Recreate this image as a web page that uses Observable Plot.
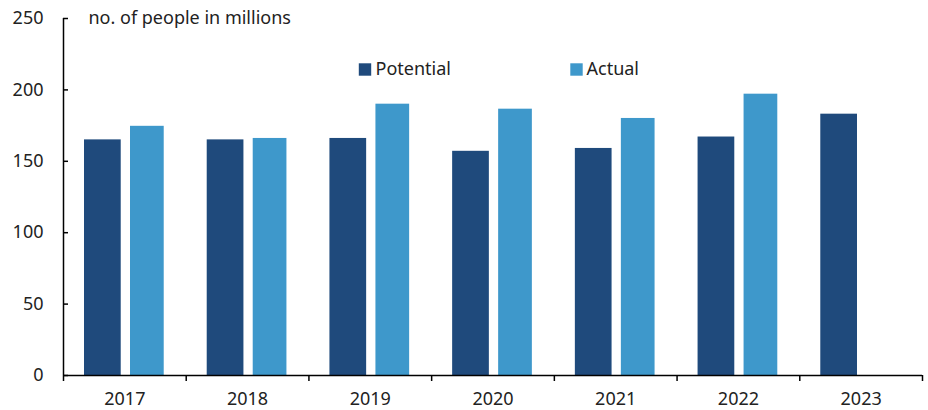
<!DOCTYPE html>
<html>
<head>
<meta charset="utf-8">
<script src="https://cdn.jsdelivr.net/npm/d3@7"></script>
<script src="https://cdn.jsdelivr.net/npm/@observablehq/plot@0.6"></script>
<style>
  html, body { margin: 0; padding: 0; background: #fff; }
  #chart svg { display: block; }
</style>
</head>
<body>
<div id="chart"></div>
<script>
const years = [2017, 2018, 2019, 2020, 2021, 2022, 2023];
const potential = [165, 165, 166, 157, 159, 167, 183];
const actual = [174.5, 166, 190, 186.5, 180, 197, null];
const seriesNames = ["Potential", "Actual"];
const seriesColors = ["#1f4a7c", "#3e98cb"];
const yTicks = [0, 50, 100, 150, 200, 250];
const axisTitle = "no. of people in millions";

const potData = years.map((year, i) => ({year, value: potential[i]}));
const actData = years.map((year, i) => ({year, value: actual[i]})).filter(d => d.value != null);
const bounds = [years[0] - 0.5, ...years.map(y => y + 0.5)];

const font = "'Noto Sans', sans-serif";
const fs = 18;

const chart = Plot.plot({
  width: 928,
  height: 410,
  marginLeft: 63,
  marginRight: 6,
  marginTop: 18,
  marginBottom: 35,
  style: {fontFamily: font, fontSize: fs + "px", color: "#222", background: "#fff"},
  x: {type: "linear", domain: [bounds[0], bounds[bounds.length - 1]], axis: null},
  y: {domain: [0, 250], axis: null},
  marks: [
    Plot.rectY(potData, {x1: d => d.year - 0.5, x2: d => d.year + 0.5, y: "value", fill: seriesColors[0], insetLeft: 21, insetRight: 65}),
    Plot.rectY(actData, {x1: d => d.year - 0.5, x2: d => d.year + 0.5, y: "value", fill: seriesColors[1], insetLeft: 67, insetRight: 22}),
    Plot.axisY({ticks: yTicks, tickSize: 0, tickPadding: 20, label: null, fontSize: fs, fill: "#222"}),
    Plot.axisY({ticks: yTicks, tickSize: -5, text: null, label: null, stroke: "#000", strokeWidth: 1.5}),
    Plot.axisX({ticks: years, tickSize: 0, tickPadding: 17, tickFormat: d => String(d), label: null, fontSize: fs, fill: "#222"}),
    Plot.axisX({ticks: bounds, tickSize: 6, text: null, label: null, stroke: "#000", strokeWidth: 1.5}),
    Plot.ruleY([0], {stroke: "#000", strokeWidth: 1.5}),
    Plot.ruleX([bounds[0]], {stroke: "#000", strokeWidth: 1.5}),
    Plot.text([axisTitle], {frameAnchor: "top-left", dx: 25, dy: 0, textAnchor: "start", lineAnchor: "middle", fontSize: fs, fill: "#222"}),
    Plot.dot([seriesNames[0]], {frameAnchor: "top-left", dx: 301.5, dy: 51, symbol: "square", r: 7, fill: seriesColors[0]}),
    Plot.text([seriesNames[0]], {frameAnchor: "top-left", dx: 312, dy: 51, textAnchor: "start", lineAnchor: "middle", fontSize: fs, fill: "#222"}),
    Plot.dot([seriesNames[1]], {frameAnchor: "top-left", dx: 513, dy: 51, symbol: "square", r: 7, fill: seriesColors[1]}),
    Plot.text([seriesNames[1]], {frameAnchor: "top-left", dx: 523, dy: 51, textAnchor: "start", lineAnchor: "middle", fontSize: fs, fill: "#222"})
  ]
});
document.getElementById("chart").appendChild(chart);
</script>
</body>
</html>
